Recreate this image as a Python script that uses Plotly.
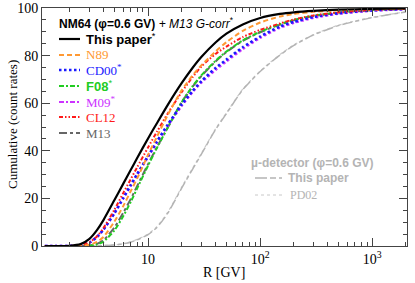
import plotly.graph_objects as go

# Rigidity grid [GV]
R = [1.2, 1.5, 2, 2.5, 3, 3.5, 4, 5, 6, 7, 8, 10, 12, 15, 20, 25, 30, 40, 50,
     70, 100, 150, 200, 300, 500, 1000, 2000]

# NM64 cumulative count rates [%]
this_paper = [0, 0, 0.1, 0.8, 3.0, 6.7, 10.9, 19.2, 26.1, 31.9, 37.0, 45.2, 51.6, 59.3, 68.5,
              74.9, 79.5, 85.5, 89.2, 93.1, 95.8, 97.5, 98.2, 98.8, 99.3, 99.6, 99.8]
n89 = [0, 0, 0, 0.1, 0.5, 1.7, 3.8, 10.2, 16.7, 23.0, 28.4, 38.3, 45.9, 55.1, 65.5,
       71.7, 76.0, 81.7, 85.6, 90.4, 93.9, 96.4, 97.5, 98.4, 99.05, 99.47, 99.7]
cd00 = [0, 0, 0, 0.3, 1.4, 3.8, 6.9, 13.8, 20.1, 25.6, 30.2, 37.8, 43.9, 51.0, 59.5,
        65.2, 69.3, 74.8, 78.3, 83.5, 88.0, 92.2, 94.2, 96.2, 97.8, 99.0, 99.6]
f08 = [0, 0, 0, 0, 0.15, 0.6, 1.8, 6.5, 12.5, 18.5, 24.2, 33.8, 41.2, 49.8, 60.5,
       67.2, 71.8, 77.8, 81.7, 86.4, 90.0, 93.2, 95.0, 96.8, 98.1, 99.2, 99.6]
m09 = [0, 0, 0, 0.3, 1.4, 3.8, 6.9, 13.7, 20.0, 25.4, 30.0, 37.5, 43.5, 50.6, 59.0,
       64.8, 68.8, 74.0, 77.6, 82.8, 87.5, 91.7, 93.8, 95.9, 97.6, 98.9, 99.5]
cl12 = [0, 0, 0, 0.3, 1.5, 4.0, 7.5, 15.2, 22.2, 28.05, 33.1, 41.4, 48.0, 55.7, 64.7,
        71.0, 75.5, 80.7, 83.8, 87.8, 90.8, 93.5, 95.2, 96.9, 98.2, 99.2, 99.7]
m13 = [0, 0, 0, 0.04, 0.25, 0.9, 2.4, 7.7, 13.9, 19.7, 25.2, 34.4, 41.5, 49.8, 60.5,
       67.0, 71.5, 77.5, 81.5, 86.2, 89.8, 93.0, 94.8, 96.6, 98.0, 99.1, 99.6]

# mu-detector cumulative count rates [%]
mu_this_paper = [0, 0, 0, 0, 0, 0.05, 0.15, 0.4, 0.9, 1.6, 2.6, 4.8, 7.8, 13.8, 24.4,
                 32.3, 38.7, 48.9, 55.6, 65.7, 73.3, 80.2, 84.3, 88.7, 92.6, 96.0, 98.3]
mu_pd02 = [0, 0, 0, 0, 0, 0.05, 0.2, 0.5, 1.0, 1.8, 2.8, 5.0, 8.1, 14.2, 24.8,
           32.7, 39.0, 49.2, 55.9, 65.9, 73.5, 80.4, 84.5, 88.9, 92.8, 96.1, 98.4]

x_tickvals = [10, 100, 1000]
x_ticktext = ["10", "10<sup>2</sup>", "10<sup>3</sup>"]
x_minor = [2, 3, 4, 5, 6, 7, 8, 9, 20, 30, 40, 50, 60, 70, 80, 90,
           200, 300, 400, 500, 600, 700, 800, 900, 2000]
y_tickvals = [0, 20, 40, 60, 80, 100]

SERIF = "Liberation Serif"
SANS = "Liberation Sans"

MU_COL = "#b4b4b4"
series = [
    ("µ PD02", mu_pd02, "#c8c8c8", "dot", 1.2),
    ("µ This paper", mu_this_paper, MU_COL, "10px,3px,4px,3px", 1.5),
    ("M13", m13, "#666666", "8px,3px,3px,3px", 2),
    ("F08", f08, "#22cc22", "5px,2px,2px,2px", 2),
    ("M09", m09, "#cc33ff", "2.5px,2.5px", 2.6),
    ("CD00", cd00, "#1a1aff", "2.5px,2.5px", 2.6),
    ("CL12", cl12, "#ff1a1a", "4px,2px,1.5px,2px,1.5px,2px", 2),
    ("N89", n89, "#ff9933", "5px,3px", 2),
    ("This paper", this_paper, "#000000", "solid", 2.2),
]

fig = go.Figure()
for name, vals, col, dash, w in series:
    fig.add_trace(go.Scatter(x=R, y=vals, mode="lines", name=name,
                             line=dict(color=col, dash=dash, width=w, shape="spline",
                                       smoothing=0.6),
                             showlegend=False, cliponaxis=True, hoverinfo="skip"))

axcol = "#444444"
fig.update_layout(
    width=415, height=283, autosize=False,
    margin=dict(l=42, r=8, t=8, b=37, pad=0, autoexpand=False),
    paper_bgcolor="white", plot_bgcolor="white",
    font=dict(family=SERIF, size=14, color="black"),
    xaxis=dict(type="log", range=[0.054, 3.31], automargin=False,
               tickmode="array", tickvals=x_tickvals, ticktext=x_ticktext,
               ticks="inside", ticklen=8, tickcolor=axcol, tickwidth=1,
               showline=True, linecolor=axcol, linewidth=1, mirror="ticks",
               showgrid=False, zeroline=False,
               minor=dict(tickmode="array", tickvals=x_minor, ticks="inside",
                          ticklen=4, tickcolor=axcol, showgrid=False),
               tickfont=dict(family=SERIF, size=14)),
    yaxis=dict(range=[0, 100], tickmode="array", tickvals=y_tickvals, automargin=False,
               ticks="inside", ticklen=8, tickcolor=axcol, tickwidth=1,
               showline=True, linecolor=axcol, linewidth=1, mirror="ticks",
               showgrid=False, zeroline=False,
               minor=dict(dtick=5, ticks="inside", ticklen=4, tickcolor=axcol,
                          showgrid=False),
               tickfont=dict(family=SERIF, size=14)),
)

W, H = 365.0, 238.0
def px(x):
    return (x - 42) / W
def py(y):
    return (246 - y) / H

# axis titles
fig.add_annotation(x=px(224), y=py(272), xref="paper", yref="paper",
                   xanchor="center", yanchor="middle", showarrow=False,
                   text="R [GV]", font=dict(family=SERIF, size=14, color="black"))
fig.add_annotation(x=px(12), y=py(125), xref="paper", yref="paper",
                   xanchor="center", yanchor="middle", showarrow=False, textangle=-90,
                   text="Cumulative (count rates)",
                   font=dict(family=SERIF, size=13, color="black"))

# Title of NM legend
fig.add_annotation(x=px(57), y=py(23), xref="paper", yref="paper",
                   xanchor="left", yanchor="middle", showarrow=False,
                   text="<b>NM64 (φ=0.6 GV)</b> <i>+ M13 G-corr</i><sup>*</sup>",
                   font=dict(family=SANS, size=12, color="black"))

legend_rows = [
    ("<b>This paper</b><sup>*</sup>", "#000000", "solid", 2.2, SANS, 39),
    ("N89", "#ff9933", "5px,3px", 2, SERIF, 55),
    ("CD00<sup>*</sup>", "#1a1aff", "2.5px,2.5px", 2.6, SERIF, 70),
    ("<b>F08</b><sup>*</sup>", "#22cc22", "5px,2px,2px,2px", 2, SANS, 86),
    ("M09<sup>*</sup>", "#cc33ff", "5px,2px,2px,2px", 2, SERIF, 102),
    ("CL12", "#ff1a1a", "4px,2px,1.5px,2px,1.5px,2px", 2, SERIF, 117),
    ("M13", "#666666", "8px,3px,3px,3px", 2, SERIF, 133),
]
for text, col, dash, w, fam, yy in legend_rows:
    fig.add_shape(type="line", xref="paper", yref="paper",
                  x0=px(59), x1=px(80), y0=py(yy), y1=py(yy),
                  line=dict(color=col, dash=dash, width=w))
    fig.add_annotation(x=px(84), y=py(yy), xref="paper", yref="paper",
                       xanchor="left", yanchor="middle", showarrow=False,
                       text=text, font=dict(family=fam, size=13, color=col))

# mu-detector legend
fig.add_annotation(x=px(249), y=py(163), xref="paper", yref="paper",
                   xanchor="left", yanchor="middle", showarrow=False,
                   text="<b>µ-detector (φ=0.6 GV)</b>",
                   font=dict(family=SANS, size=12, color=MU_COL))
fig.add_shape(type="line", xref="paper", yref="paper",
              x0=px(255), x1=px(282), y0=py(178), y1=py(178),
              line=dict(color=MU_COL, dash="12px,3px,6px,3px", width=1.5))
fig.add_annotation(x=px(286), y=py(178), xref="paper", yref="paper",
                   xanchor="left", yanchor="middle", showarrow=False,
                   text="<b>This paper</b>",
                   font=dict(family=SANS, size=12, color=MU_COL))
fig.add_shape(type="line", xref="paper", yref="paper",
              x0=px(255), x1=px(282), y0=py(195), y1=py(195),
              line=dict(color="#c8c8c8", dash="dot", width=1))
fig.add_annotation(x=px(288), y=py(195), xref="paper", yref="paper",
                   xanchor="left", yanchor="middle", showarrow=False,
                   text="PD02",
                   font=dict(family=SERIF, size=12, color=MU_COL))

fig.write_html("out.html", config={"displayModeBar": False, "staticPlot": True},
               post_script="document.body.style.margin='0';document.body.style.overflow='hidden';")
